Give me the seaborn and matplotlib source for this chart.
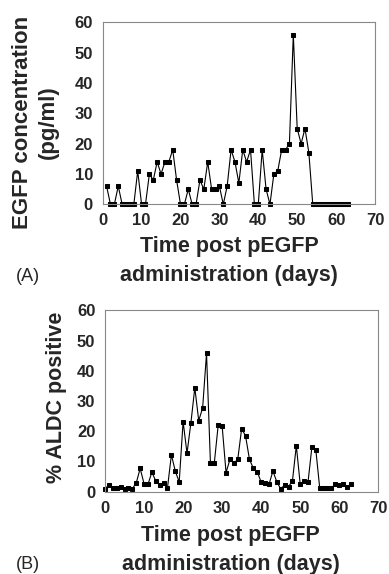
import pandas as pd
import numpy as np
import seaborn as sns
import matplotlib
matplotlib.use("Agg")
import matplotlib.pyplot as plt

# painel A: concentração de EGFP (pg/ml) por dia
dias_a = list(range(1, 64))
egfp = [6, 0, 0, 6, 0, 0, 0, 0, 11, 0,
        0, 10, 8, 14, 10, 14, 14, 18, 8, 0,
        0, 5, 0, 0, 8, 5, 14, 5, 5, 6,
        0, 6, 18, 14, 7, 18, 14, 18, 0, 0,
        18, 5, 0, 10, 11, 18, 18, 20, 56, 25,
        20, 25, 17, 0, 0, 0, 0, 0, 0, 0,
        0, 0, 0]

# painel B: % ALDC positivo por dia
dias_b = list(range(0, 64))
aldc = [1.0, 2.2, 1.1, 1.3, 1.6, 1.0, 1.1, 1.0, 2.9, 7.7,
        2.6, 2.4, 6.5, 3.5, 2.2, 3.0, 1.3, 12.2, 6.8, 3.2,
        23.2, 12.7, 22.8, 34.4, 23.5, 27.7, 45.8, 9.4, 9.6, 22.2,
        21.7, 6.3, 10.7, 9.4, 10.7, 20.9, 18.4, 10.7, 7.7, 6.6,
        3.1, 2.8, 2.4, 6.8, 3.3, 0.9, 2.2, 1.7, 3.5, 15.2,
        2.4, 3.6, 3.2, 14.9, 13.8, 1.1, 1.3, 1.1, 1.3, 2.4,
        2.1, 2.4, 1.4, 2.6]

df_a = pd.DataFrame({"dia": dias_a, "valor": egfp})
df_b = pd.DataFrame({"dia": dias_b, "valor": aldc})

sns.set_style("white")
plt.rcParams['font.family'] = ['Liberation Sans', 'DejaVu Sans']

fig = plt.figure(figsize=(3.89, 5.74), dpi=100)
ax_a = fig.add_axes([0.264, 0.644, 0.700, 0.317])
ax_b = fig.add_axes([0.270, 0.1434, 0.7025, 0.316])

rotulo_x = "Time post pEGFP\nadministration (days)"

# (eixo, dados, rótulo y, tamanho do rótulo y, posição do rótulo y, posição do rótulo x)
paineis = [(ax_a, df_a, "EGFP concentration\n(pg/ml)", 16, (-0.16, 0.452), (0.465, -0.175)),
           (ax_b, df_b, "% ALDC positive", 15.5, (-0.14, 0.52), (0.46, -0.182))]

for ax, df, rotulo_y, tam_y, pos_y, pos_x in paineis:
    sns.lineplot(data=df, x="dia", y="valor", ax=ax, color="black",
                 linewidth=0.8, marker="s", markersize=3.2,
                 markeredgecolor="black", clip_on=False)
    ax.set_xlim(0, 70)
    ax.set_ylim(0, 60)
    ax.set_xticks(np.arange(0, 71, 10))
    ax.set_yticks(np.arange(0, 61, 10))
    ax.tick_params(direction="in", length=3, color="#888888", width=0.8,
                   labelsize=12)
    ax.tick_params(axis="x", pad=6.5)
    ax.tick_params(axis="y", pad=7)
    for t in ax.get_xticklabels() + ax.get_yticklabels():
        t.set_fontweight("bold")
    for s in ax.spines.values():
        s.set_color("#888888")
        s.set_linewidth(0.8)
    ax.set_xlabel(rotulo_x, fontsize=15.5, fontweight="bold", linespacing=1.5)
    ax.xaxis.set_label_coords(*pos_x)
    ax.set_ylabel(rotulo_y, fontsize=tam_y, fontweight="bold", linespacing=1.3)
    ax.yaxis.set_label_coords(*pos_y)

fig.text(0.041, 0.519, "(A)", fontsize=13, va="center", ha="left")
fig.text(0.041, 0.0174, "(B)", fontsize=13, va="center", ha="left")

fig.savefig("out.png", dpi=100)
